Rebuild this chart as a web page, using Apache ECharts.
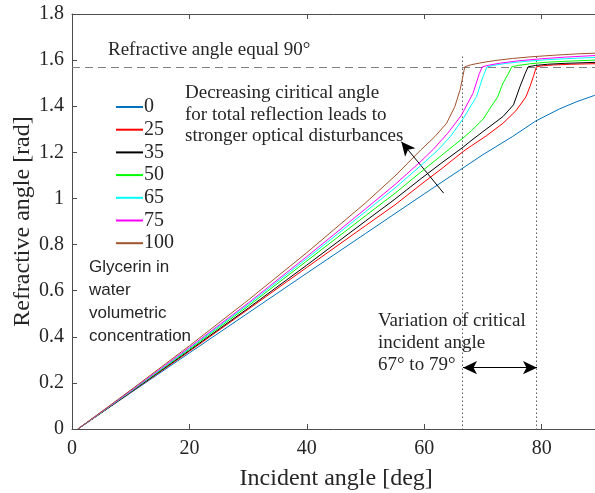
<!DOCTYPE html>
<html>
<head>
<meta charset="utf-8">
<script src="https://cdn.jsdelivr.net/npm/echarts@6/dist/echarts.min.js"></script>
<style>html,body{margin:0;padding:0;background:#fff}#c{width:595px;height:493px}</style>
</head>
<body>
<div id="c"></div>
<script>
// Glycerin volumetric concentration (legend)
const concentrations = ['0', '25', '35', '50', '65', '75', '100'];
const colors = ['#0072BD', '#FF0000', '#000000', '#00FF00', '#00FFFF', '#FF00FF', '#A0522D'];

// Incident angle [deg] / refractive angle [rad], one pair per concentration
const x0   = [1, 10, 20, 30, 40, 50, 60, 66, 70, 75, 79, 83, 86, 89, 90];
const y0   = [0, 0.157, 0.330, 0.503, 0.676, 0.848, 1.020, 1.122, 1.190, 1.268, 1.336, 1.388, 1.420, 1.447, 1.455];

const x25  = [1, 10, 20, 30, 40, 50, 55, 59.3, 63, 66.6, 68, 70.6, 73.4, 75.6, 77.3, 78.0, 78.6, 79.1, 80, 82, 85, 90];
const y25  = [0, 0.159, 0.337, 0.519, 0.701, 0.882, 0.972, 1.058, 1.13, 1.203, 1.228, 1.272, 1.326, 1.38, 1.44, 1.485, 1.53, 1.571, 1.575, 1.579, 1.582, 1.585];

const x35  = [1, 10, 20, 30, 40, 50, 55, 59.3, 63, 66.6, 67.8, 70, 73.4, 75.2, 76.3, 77.2, 77.7, 79, 81, 84, 90];
const y35  = [0, 0.160, 0.341, 0.524, 0.711, 0.902, 0.997, 1.083, 1.155, 1.222, 1.247, 1.29, 1.355, 1.406, 1.485, 1.543, 1.571, 1.577, 1.582, 1.586, 1.591];

const x50  = [1, 10, 20, 30, 40, 50, 55, 59.3, 63, 66.6, 68, 70, 71.2, 72.5, 73.4, 74.3, 74.9, 76, 78, 81, 85, 90];
const y50  = [0, 0.162, 0.346, 0.533, 0.729, 0.925, 1.022, 1.112, 1.188, 1.262, 1.293, 1.343, 1.391, 1.44, 1.50, 1.54, 1.571, 1.577, 1.584, 1.591, 1.596, 1.601];

const x65  = [1, 10, 20, 30, 40, 50, 55, 59.3, 62.4, 64.5, 66.6, 68.9, 70.0, 70.7, 72, 74, 77, 81, 85, 90];
const y65  = [0, 0.163, 0.350, 0.540, 0.739, 0.943, 1.045, 1.140, 1.212, 1.270, 1.345, 1.442, 1.528, 1.571, 1.578, 1.586, 1.594, 1.602, 1.607, 1.613];

const x75  = [1, 10, 20, 30, 40, 50, 55, 59.3, 61.5, 64, 66.3, 68.3, 69.4, 69.9, 71, 73, 76, 80, 84, 90];
const y75  = [0, 0.165, 0.354, 0.546, 0.748, 0.955, 1.060, 1.158, 1.212, 1.283, 1.36, 1.456, 1.543, 1.571, 1.578, 1.587, 1.597, 1.606, 1.613, 1.621];

const x100 = [1, 10, 20, 30, 40, 50, 55, 59.4, 61.8, 63.8, 65.2, 66.1, 66.9, 68, 70, 72, 75, 78, 82, 86, 90];
const y100 = [0, 0.169, 0.361, 0.559, 0.765, 0.981, 1.097, 1.21, 1.268, 1.326, 1.398, 1.471, 1.571, 1.580, 1.590, 1.598, 1.607, 1.614, 1.621, 1.627, 1.631];

const xsAll = [x0, x25, x35, x50, x65, x75, x100];
const ysAll = [y0, y25, y35, y50, y65, y75, y100];

// Axis ticks
const xTicks = [0, 20, 40, 60, 80];
const yTicks = [0, 0.2, 0.4, 0.6, 0.8, 1, 1.2, 1.4, 1.6, 1.8];

// Annotation values
const rightAngle = Math.PI / 2;
const criticalMin = 66.5, criticalMax = 79.1;
const dottedTop = 1.615;
const arrowTail = [63.3, 1.023], arrowHead = [56.1, 1.246];
const rangeArrowY = 0.266, rangeArrowX0 = 66.6, rangeArrowX1 = 79.2;

const SERIF = '"Liberation Serif", "Times New Roman", serif';
const SANS = '"Liberation Sans", Arial, sans-serif';
const TXT = '#262626';
const AX = '#4d4d4d';

const chart = echarts.init(document.getElementById('c'), null, {renderer: 'canvas'});

const series = concentrations.map((name, i) => ({
  name: name,
  type: 'line',
  symbol: 'none',
  showSymbol: false,
  data: xsAll[i].map((x, k) => [x, ysAll[i][k]]),
  lineStyle: {color: colors[i], width: 1},
  itemStyle: {color: colors[i]},
  z: 3 + i,
  animation: false
}));

series[0].markLine = {
  silent: true,
  animation: false,
  label: {show: false},
  symbol: 'none',
  data: [
    [{coord: [0, rightAngle], lineStyle: {color: '#808080', type: [8, 5], width: 1}}, {coord: [90, rightAngle]}],
    [{coord: [criticalMin, dottedTop], lineStyle: {color: '#000', type: [1, 3], width: 1}}, {coord: [criticalMin, 0]}],
    [{coord: [criticalMax, dottedTop], lineStyle: {color: '#000', type: [1, 3], width: 1}}, {coord: [criticalMax, 0]}],
    [{coord: arrowTail, symbol: 'none', lineStyle: {color: '#000', type: 'solid', width: 1}},
     {coord: arrowHead, symbol: 'arrow', symbolSize: [10, 14]}],
    [{coord: [rangeArrowX0, rangeArrowY], symbol: 'arrow', symbolSize: [10, 14], lineStyle: {color: '#000', type: 'solid', width: 1}},
     {coord: [rangeArrowX1, rangeArrowY], symbol: 'arrow', symbolSize: [10, 14]}]
  ]
};

const option = {
  animation: false,
  backgroundColor: '#fff',
  grid: {left: 72, top: 14, bottom: 64, width: 528.4, containLabel: false, outerBoundsMode: 'none'},
  legend: {
    data: concentrations,
    orient: 'vertical',
    left: 111,
    top: 92,
    itemWidth: 27,
    itemHeight: 14,
    itemGap: 2.7,
    icon: 'path://M0,6 L27,6 L27,8 L0,8 Z',
    textStyle: {fontFamily: SERIF, fontSize: 20, color: TXT, lineHeight: 20, padding: [0, 0, 0, -4]}
  },
  xAxis: [{
    type: 'value', min: 0, max: 90, interval: 20,
    name: 'Incident angle [deg]', nameLocation: 'middle', nameGap: 38, nameMoveOverlap: false,
    nameTextStyle: {fontFamily: SERIF, fontSize: 24, color: TXT},
    axisLine: {lineStyle: {color: AX, width: 1}},
    axisTick: {inside: true, length: 5, lineStyle: {color: AX}},
    axisLabel: {fontFamily: SERIF, fontSize: 20, color: TXT, margin: 10, showMaxLabel: false,
      formatter: v => xTicks.indexOf(v) >= 0 ? String(v) : ''},
    splitLine: {show: false}
  }, {
    type: 'value', min: 0, max: 90, interval: 20, position: 'top',
    axisLine: {show: true, lineStyle: {color: AX, width: 1}},
    axisTick: {show: true, inside: true, length: 5, lineStyle: {color: AX}},
    axisLabel: {show: false},
    splitLine: {show: false}
  }],
  yAxis: {
    type: 'value', min: 0, max: 1.8, interval: 0.2,
    name: 'Refractive angle [rad]', nameLocation: 'middle', nameGap: 37, nameMoveOverlap: false,
    nameTextStyle: {fontFamily: SERIF, fontSize: 24, color: TXT},
    axisLine: {show: true, lineStyle: {color: AX, width: 1}},
    axisTick: {show: true, inside: true, length: 5, lineStyle: {color: AX}},
    axisLabel: {fontFamily: SERIF, fontSize: 20, color: TXT, margin: 8,
      formatter: v => {
        const t = yTicks.find(t => Math.abs(t - v) < 1e-9);
        return t === undefined ? '' : String(t);
      }},
    splitLine: {show: false}
  },
  graphic: [
    {type: 'text', left: 108, top: 41, silent: true,
     style: {text: 'Refractive angle equal 90°', font: '19px ' + SERIF, fill: TXT}},
    {type: 'text', left: 185, top: 82, silent: true,
     style: {text: 'Decreasing ciritical angle\nfor total reflection leads to\nstronger optical disturbances',
       font: '19px ' + SERIF, fill: TXT, lineHeight: 21.7}},
    {type: 'text', left: 378, top: 310.5, silent: true,
     style: {text: 'Variation of critical\nincident angle\n67° to 79°', font: '19px ' + SERIF, fill: TXT, lineHeight: 22}},
    {type: 'text', left: 89, top: 255.5, silent: true,
     style: {text: 'Glycerin in\nwater\nvolumetric\nconcentration', font: '17px ' + SANS, fill: TXT, lineHeight: 23}}
  ],
  series: series
};
chart.setOption(option);
</script>
</body>
</html>
